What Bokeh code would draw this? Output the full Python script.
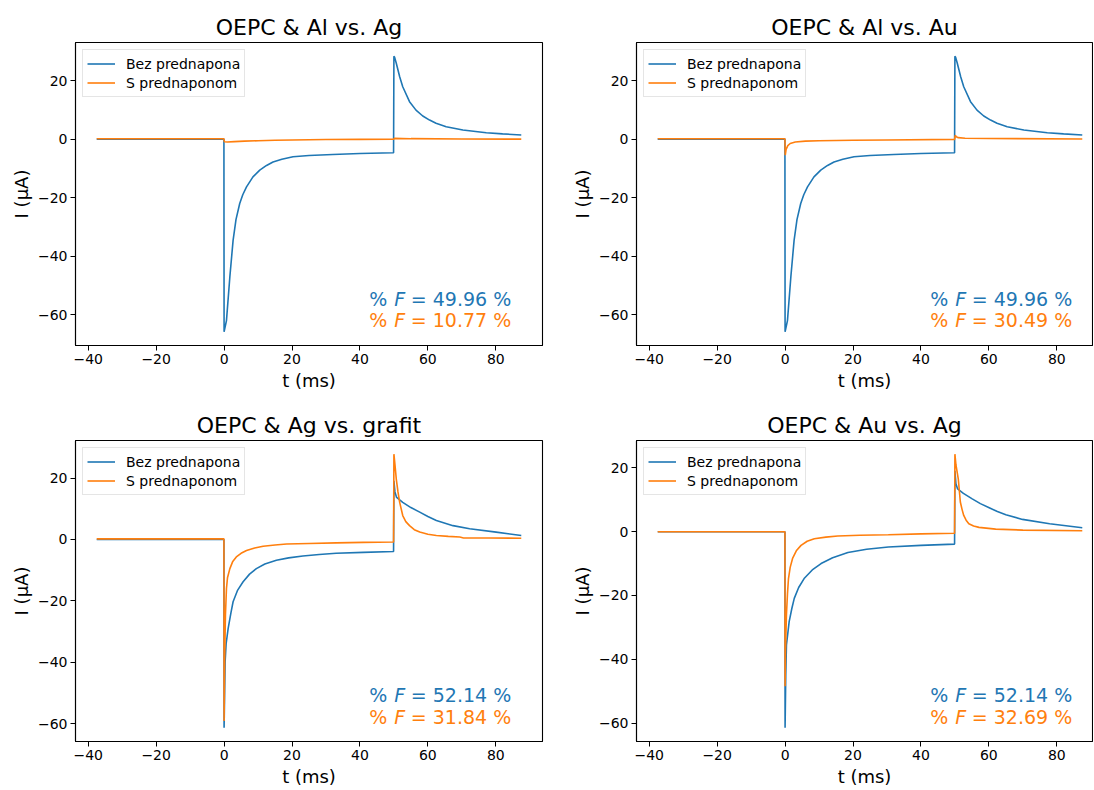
from bokeh.plotting import figure
from bokeh.layouts import column, row
from bokeh.models import Range1d, FixedTicker, Label, CustomJSTickFormatter
from bokeh.embed import file_html
from bokeh.resources import INLINE

# ---------------- data ----------------
titles = ["OEPC & Al vs. Ag", "OEPC & Al vs. Au", "OEPC & Ag vs. grafit", "OEPC & Au vs. Ag"]
series_names = ["Bez prednapona", "S prednaponom"]

# Panel 1 / 2 (Al): curve without bias (identical in both panels)
t_al_bez = [-37.5, -20.0, -0.05, 0.0, 0.7, 1.7, 2.65, 3.5, 4.6, 5.5, 6.6, 8.5, 10.5, 12.5, 14.4,
            17.0, 20.3, 25.0, 32.0, 40.0, 49.9, 50.0, 50.2, 50.7, 51.7, 52.6, 54.6, 56.5, 58.5,
            60.5, 62.4, 65.4, 70.3, 77.2, 82.0, 87.5]
i_al_bez = [0.0, 0.0, 0.0, -65.8, -62.0, -47.0, -34.6, -27.5, -22.0, -19.0, -16.3, -12.9, -10.6,
            -9.0, -7.8, -6.9, -6.05, -5.6, -5.25, -4.9, -4.65, 28.3, 28.0, 25.9, 21.3, 17.9, 12.8,
            9.9, 7.9, 6.5, 5.4, 4.2, 3.1, 2.2, 1.8, 1.4]

# Panel 1: with bias
t_p1_s = [-37.5, -0.05, 0.1, 1.0, 3.0, 6.0, 10.0, 15.0, 20.0, 30.0, 40.0, 49.9, 50.1, 55.0, 70.0, 87.5]
i_p1_s = [0.1, 0.1, -0.9, -1.0, -0.85, -0.7, -0.55, -0.4, -0.3, -0.15, -0.1, -0.05, 0.25, 0.15, 0.05, 0.0]

# Panel 2: with bias
t_p2_s = [-37.5, -0.05, 0.05, 0.3, 0.8, 1.5, 3.0, 6.0, 10.0, 20.0, 30.0, 49.9, 50.1, 50.4, 51.0,
          53.0, 60.0, 87.5]
i_p2_s = [0.1, 0.1, -5.5, -3.5, -2.2, -1.5, -1.0, -0.7, -0.55, -0.4, -0.3, -0.1, 1.3, 0.8, 0.5,
          0.3, 0.2, 0.05]

# Panel 3 (Ag vs. grafit)
t_p3_b = [-37.5, -0.05, 0.0, 0.3, 0.6, 1.2, 2.0, 2.65, 4.0, 5.6, 7.5, 9.5, 12.0, 15.4, 19.0, 23.2,
          28.0, 33.0, 41.0, 49.9, 50.0, 50.3, 50.8, 52.6, 55.0, 57.6, 60.0, 62.5, 67.4, 72.3,
          80.1, 87.5]
i_p3_b = [0.0, 0.0, -61.4, -40.0, -34.0, -29.0, -24.0, -20.3, -16.5, -13.8, -11.3, -9.5, -8.0,
          -6.8, -6.0, -5.4, -4.9, -4.5, -4.2, -3.9, 19.1, 15.5, 13.7, 12.1, 10.4, 8.9, 7.5, 6.2,
          4.5, 3.5, 2.4, 1.3]
t_p3_s = [-37.5, -0.05, 0.0, 0.15, 0.4, 0.7, 1.0, 1.7, 2.5, 3.6, 5.0, 6.6, 9.0, 11.5, 15.0, 18.4,
          25.0, 33.0, 41.0, 49.9, 50.0, 50.3, 50.7, 51.2, 51.7, 52.6, 53.5, 54.6, 56.0, 57.6,
          60.0, 62.5, 66.0, 69.4, 70.5, 78.0, 87.5]
i_p3_s = [0.2, 0.2, -59.2, -40.0, -24.6, -16.0, -12.5, -9.5, -7.3, -5.7, -4.5, -3.6, -2.8, -2.2,
          -1.8, -1.5, -1.3, -1.1, -0.95, -0.85, 27.8, 24.5, 19.7, 15.5, 12.1, 7.8, 5.8, 4.5, 3.2,
          2.4, 1.7, 1.3, 1.0, 0.8, 0.5, 0.5, 0.4]

# Panel 4 (Au vs. Ag)
t_p4_b = [-37.5, -0.05, 0.0, 0.2, 0.4, 1.2, 2.0, 2.7, 4.0, 5.6, 8.0, 10.6, 14.0, 18.5, 24.0, 30.4,
          40.0, 49.9, 50.0, 50.3, 50.8, 52.5, 55.1, 57.5, 60.1, 62.5, 65.0, 69.9, 77.9, 87.5]
i_p4_b = [0.0, 0.0, -61.5, -45.0, -35.5, -28.2, -24.0, -20.9, -17.5, -14.7, -12.0, -10.0, -8.2,
          -6.55, -5.5, -4.8, -4.3, -3.9, 19.1, 15.0, 13.4, 12.0, 10.3, 8.8, 7.5, 6.3, 5.3, 3.85,
          2.5, 1.25]
t_p4_s = [-37.5, -0.05, 0.0, 0.1, 0.4, 0.7, 1.0, 1.5, 2.2, 3.3, 4.7, 6.5, 8.6, 12.0, 15.5, 22.0,
          30.4, 40.0, 49.9, 50.0, 50.3, 51.0, 51.6, 52.1, 52.6, 53.3, 54.1, 55.5, 57.1, 62.0,
          70.0, 87.5]
i_p4_s = [0.0, 0.0, -48.5, -38.0, -26.0, -19.5, -14.7, -11.2, -8.4, -6.0, -4.3, -3.0, -2.2, -1.7,
          -1.35, -1.1, -0.95, -0.7, -0.5, 24.3, 21.0, 16.5, 9.3, 7.0, 5.1, 3.6, 2.5, 1.8, 1.35,
          0.8, 0.5, 0.3]

f_bez = ["49.96", "49.96", "52.14", "52.14"]
f_s = ["10.77", "30.49", "31.84", "32.69"]

x_ticks = [-40, -20, 0, 20, 40, 60, 80]
y_ticks = [-60, -40, -20, 0, 20]

BLUE = "#1f77b4"
ORANGE = "#ff7f0e"
FONT = "DejaVu Sans"

minus_fmt = "return (tick < 0 ? '\\u2212' + Math.abs(tick) : '' + tick);"


def panel(idx, tb, ib, ts, is_, width, mbl, mbr, height, mbt, mbb, frame_frac):
    tmin = min(min(tb), min(ts)); tmax = max(max(tb), max(ts))
    ymin = min(min(ib), min(is_)); ymax = max(max(ib), max(is_))
    xpad = 0.05 * (tmax - tmin); ypad = 0.05 * (ymax - ymin)
    x0 = tmin - xpad
    xspan = (tmax + xpad) - x0
    x1 = x0 + xspan * frame_frac
    y0 = ymin - ypad; y1 = ymax + ypad

    p = figure(width=width, height=height, output_backend="svg", toolbar_location=None,
               x_range=Range1d(x0, x1), y_range=Range1d(y0, y1),
               min_border_left=mbl, min_border_right=mbr, min_border_top=mbt,
               min_border_bottom=mbb)
    p.title.text = titles[idx]
    p.title.text_font = FONT
    p.title.text_font_size = "22px"
    p.title.text_font_style = "normal"
    p.title.text_color = "black"
    p.title.align = "center"
    p.title.standoff = 5

    p.line(tb, ib, color=BLUE, line_width=1.6, legend_label=series_names[0])
    p.line(ts, is_, color=ORANGE, line_width=1.6, legend_label=series_names[1])

    p.xgrid.visible = False
    p.ygrid.visible = False
    p.outline_line_color = "black"
    p.outline_line_width = 1.1
    p.background_fill_color = "white"
    p.border_fill_color = "white"

    for ax, ticks, lab in ((p.xaxis[0], x_ticks, "t (ms)"), (p.yaxis[0], y_ticks, "I (\u03bcA)")):
        ax.ticker = FixedTicker(ticks=ticks)
        ax.formatter = CustomJSTickFormatter(code=minus_fmt)
        ax.axis_label = lab
        ax.axis_label_text_font = FONT
        ax.axis_label_text_font_size = "18px"
        ax.axis_label_text_font_style = "normal"
        ax.axis_label_text_color = "black"
        ax.axis_label_standoff = 3
        ax.major_label_text_font = FONT
        ax.major_label_text_font_size = "14px"
        ax.major_label_text_color = "black"
        ax.major_label_standoff = 3
        ax.major_tick_out = 5
        ax.major_tick_in = 0
        ax.minor_tick_out = 0
        ax.minor_tick_in = 0
        ax.axis_line_color = "black"
        ax.axis_line_width = 1.1
        ax.major_tick_line_color = "black"

    lg = p.legend[0]
    lg.location = "top_left"
    lg.margin = 7
    lg.padding = 4
    lg.spacing = 0
    lg.glyph_width = 28
    lg.glyph_height = 19
    lg.label_height = 19
    lg.label_standoff = 11
    lg.label_text_font = FONT
    lg.label_text_font_size = "14px"
    lg.label_text_color = "black"
    lg.border_line_color = "#cccccc"
    lg.border_line_width = 1
    lg.background_fill_alpha = 0.8

    # annotations (right-aligned, positioned by axes fraction)
    xa = x0 + 0.933 * xspan
    for frac, val, col in ((0.155, f_bez[idx], BLUE), (0.083, f_s[idx], ORANGE)):
        ya = y0 + frac * (y1 - y0)
        common = dict(x=xa, y=ya, text_align="right", text_baseline="middle",
                      text_font=FONT, text_font_size="19px", text_color=col)
        p.add_layout(Label(text="= " + val + " %", x_offset=0, **common))
        p.add_layout(Label(text="F", x_offset=-106, text_font_style="italic", **common))
        p.add_layout(Label(text="%", x_offset=-124, **common))
    return p


LEFT_W, RIGHT_W = 568, 525
TOP_H, BOT_H = 395, 394
left_frame = LEFT_W - 75 - 26
right_frame = RIGHT_W - 68 - 1
ratio = right_frame / left_frame

p1 = panel(0, t_al_bez, i_al_bez, t_p1_s, i_p1_s, LEFT_W, 75, 26, TOP_H, 42, 50, 1.0)
p2 = panel(1, t_al_bez, i_al_bez, t_p2_s, i_p2_s, RIGHT_W, 68, 1, TOP_H, 42, 50, ratio)
p3 = panel(2, t_p3_b, i_p3_b, t_p3_s, i_p3_s, LEFT_W, 75, 26, BOT_H, 45, 45, 1.0)
p4 = panel(3, t_p4_b, i_p4_b, t_p4_s, i_p4_s, RIGHT_W, 68, 1, BOT_H, 45, 45, ratio)

layout = column(row(p1, p2), row(p3, p4))
open("out.html", "w").write(file_html(layout, INLINE))
